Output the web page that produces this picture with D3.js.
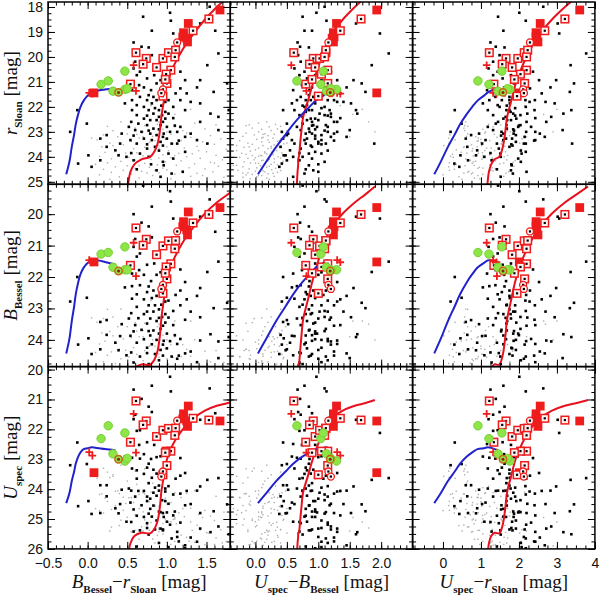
<!DOCTYPE html>
<html>
<head>
<meta charset="utf-8">
<script src="https://cdn.jsdelivr.net/npm/d3@7"></script>
<style>
	body { margin: 0; background: #fff; }
	svg { display: block; }
</style>
</head>
<body>
<div id="chart"></div>
<script>
// every star is [r_Sloan, B_Bessel - r_Sloan, U_spec - B_Bessel]
var redTrackR  = [25.3, 25.1, 24.6, 24.3, 24.1, 24.0, 23.8, 23.5, 23.0, 22.4, 21.8, 21.1, 20.4, 19.75, 19.1, 18.5, 18.0, 17.6, 17.2];
var redTrackBR = [0.50, 0.51, 0.54, 0.59, 0.68, 0.79, 0.84, 0.88, 0.91, 0.93, 0.96, 1.00, 1.08, 1.19, 1.33, 1.48, 1.63, 1.77, 1.92];
var redTrackUB = [0.66, 0.66, 0.67, 0.68, 0.68, 0.69, 0.70, 0.71, 0.73, 0.76, 0.83, 0.91, 1.00, 1.09, 1.21, 1.39, 1.58, 1.75, 1.9];

var blueTrackR  = [24.7, 24.2, 23.6, 23.1, 22.7, 22.3, 22.0, 21.75, 21.55, 21.42, 21.35, 21.3, 21.25];
var blueTrackBR = [-0.27, -0.23, -0.2, -0.17, -0.15, -0.12, -0.09, -0.05, 0.0, 0.05, 0.12, 0.22, 0.35];
var blueTrackUB = [0.04, 0.17, 0.33, 0.48, 0.6, 0.74, 0.86, 0.96, 1.08, 1.13, 1.15, 1.14, 1.1];

var sqStars = [
	[19.83,0.61,0.61],[20.06,0.74,0.92],[20.29,0.70,0.86],[20.42,0.87,0.95],[20.06,0.95,1.02],
	[19.83,1.02,1.12],[19.73,1.11,1.12],[20.00,1.10,1.10],[20.53,1.05,1.15],[20.69,0.99,1.05],
	[21.06,1.00,1.15],[21.57,0.95,1.00],[21.09,0.54,0.80],[18.48,1.53,1.68],[18.95,1.33,1.35],
	[20.90,0.98,0.90]
];
var filledSqStars = [
	[18.66,1.27,1.29],[18.12,1.67,1.93],[19.03,1.21,1.24],[19.20,1.20,1.25],[19.25,1.25,1.22],
	[19.40,1.26,1.24],[21.44,0.08,1.93]
];
var circStars = [[19.42,1.13,1.16],[21.30,0.95,1.16],[21.45,0.93,1.20]];
var plusStars = [[20.33,0.58,0.57],[21.36,0.61,0.81],[21.44,0.02,1.30],[21.47,0.06,1.35]];
var greenStars = [[21.10,0.17,1.04],[20.96,0.26,0.66],[20.57,0.47,1.08],[21.37,0.32,1.13],[21.30,0.47,1.29],[21.27,0.50,1.20]];
var ringStars = [[21.42,0.39,1.19]];

var blackStars = [
	[18.39,0.70,0.75],[18.23,1.04,0.97],[18.55,1.05,1.13],[17.99,1.54,1.10],[18.95,0.81,0.78],[19.06,1.08,1.98],
	[18.95,1.61,0.90],[18.66,1.42,1.60],[19.42,0.58,0.67],[19.59,0.68,0.71],[19.62,0.77,0.85],[19.93,0.81,0.68],
	[20.19,0.60,0.72],[20.46,0.58,0.62],[20.59,0.66,0.78],[20.73,0.62,0.70],[20.73,0.84,0.95],[20.86,0.75,0.82],
	[19.86,1.65,2.12],[20.33,1.51,1.85],[20.93,1.42,1.56],[21.06,1.76,1.69],[21.22,1.38,1.45],
	[21.13,0.65,0.74],[21.22,0.71,0.90],[21.33,0.80,0.86],[21.33,0.56,0.60],[21.06,0.87,1.00],[20.93,0.92,1.05],
	[20.59,1.17,1.20],[20.93,1.23,1.30],[21.26,1.17,1.12],[21.46,1.25,1.35],[21.46,1.11,1.08],[21.73,1.17,1.25],
	[21.80,1.30,1.40],[22.00,1.08,1.10],[22.13,1.23,1.18],[22.27,1.55,1.62],[22.40,1.65,1.20],[22.60,1.42,1.30],
	[22.93,1.65,1.50],[23.47,1.51,1.89],[23.07,1.30,1.25],[23.33,1.38,1.05],[22.80,1.17,1.15],[23.47,1.13,1.00],
	[23.80,1.23,0.95],[24.07,1.08,0.90],[24.34,0.96,0.85],[24.67,1.06,0.78],[24.54,0.87,0.92],
	[21.60,0.66,0.72],[21.73,0.75,0.80],[21.86,0.81,0.95],[21.73,0.87,0.88],[22.00,0.71,0.78],[22.13,0.77,0.90],
	[22.27,0.83,1.02],[22.13,0.90,0.85],[22.33,0.94,1.10],[22.47,0.98,0.95],[22.27,1.02,1.20],[22.53,0.87,0.82],
	[22.53,0.79,1.00],[22.47,0.71,0.88],[22.33,0.62,0.70],[22.13,0.56,0.62],[22.67,0.64,0.75],[22.73,0.75,0.92],
	[22.87,0.83,0.85],[22.73,0.92,1.12],[22.80,1.00,0.98],[23.00,1.04,1.15],[23.07,0.96,0.90],[23.13,0.87,1.05],
	[23.07,0.79,0.80],[23.00,0.68,0.86],[22.93,0.60,0.72],[22.80,0.52,0.66],[23.27,0.71,0.95],[23.33,0.81,0.78],
	[23.40,0.92,1.00],[23.27,1.00,0.82],[23.47,1.06,1.12],[23.60,0.85,0.90],[23.67,0.75,0.72],[23.47,0.62,0.80],
	[23.33,0.54,0.58],[23.07,0.43,0.52],[23.47,0.41,0.62],[23.74,0.35,0.55],[23.94,0.39,0.48],[23.13,0.24,0.50],
	[23.27,0.16,0.44],[23.60,0.24,0.40],[23.94,0.01,0.45],[24.27,-0.12,0.42],[24.40,0.05,0.38],[24.14,0.16,0.50],
	[24.00,0.49,0.60],[24.14,0.58,0.70],[23.87,0.66,0.85],[24.00,0.77,0.75],[22.13,-0.13,0.44],[22.67,-0.01,0.50],
	[23.00,-0.22,0.42],[21.73,0.56,0.66],[21.86,0.47,0.58],[21.93,0.62,0.82],[21.73,1.02,1.15],[23.87,1.02,1.05],
	[23.00,1.13,1.30],[23.20,1.23,1.45],[21.60,0.83,0.92],[21.53,0.92,1.00],[21.53,0.77,0.85],[21.86,1.42,1.52],
	[21.40,1.59,1.75],[22.13,1.78,1.60],
	[22.40,0.90,0.75],[22.60,0.95,1.25],[22.20,0.98,0.80],[22.90,0.90,0.95],[23.20,0.95,1.20],[23.55,0.95,0.88],
	[23.75,0.90,1.15],[22.05,0.85,1.05],[21.95,0.93,0.75],[22.35,0.75,1.15],[22.95,0.77,1.10],[23.50,0.75,1.05],
	[22.60,0.55,0.90],[23.15,0.58,0.95],[23.85,0.55,0.70],[24.30,0.80,1.00],[24.50,0.62,0.80],[24.20,0.95,1.10],
	[22.75,1.10,0.90],[23.35,1.15,1.25],[21.80,0.98,1.30],[24.80,0.92,0.60],[24.60,1.20,1.00],[22.45,1.08,1.35]
];

var greyStars = [
	[22.60,0.42,0.18],[22.65,1.35,0.05],[22.70,0.88,0.32],[22.72,1.62,-0.10],[22.78,0.25,0.40],[22.80,1.10,0.22],
	[22.85,0.60,-0.05],[22.88,1.48,0.35],[22.90,0.95,0.10],[22.95,0.32,0.25],[23.00,1.72,0.05],[23.00,0.70,0.42],
	[23.05,1.25,-0.15],[23.08,0.50,0.15],[23.10,1.05,0.30],[23.12,0.20,-0.02],[23.15,1.55,0.20],[23.18,0.82,-0.20],
	[23.20,0.38,0.48],[23.22,1.30,0.12],[23.25,0.65,0.28],[23.28,1.68,0.40],[23.30,0.98,0.02],[23.32,0.12,0.20],
	[23.35,1.18,-0.25],[23.38,0.55,0.35],[23.40,1.45,0.10],[23.42,0.78,0.22],[23.45,0.28,-0.12],[23.48,1.08,0.45],
	[23.50,1.60,-0.05],[23.52,0.45,0.30],[23.55,0.90,0.12],[23.58,1.38,0.25],[23.60,0.18,0.38],[23.62,0.72,-0.18],
	[23.65,1.22,0.05],[23.67,0.58,0.20],[23.70,1.75,0.30],[23.72,0.35,0.00],[23.75,1.02,0.34],[23.77,0.85,-0.08],
	[23.80,1.50,0.15],[23.82,0.22,0.26],[23.84,0.62,0.42],[23.86,1.15,-0.22],[23.88,1.32,0.18],[23.90,0.40,-0.15],
	[23.92,0.95,0.28],[23.94,1.62,0.08],[23.96,0.70,0.10],[23.98,0.15,0.05],[24.00,1.25,0.36],[24.02,0.52,-0.25],
	[24.04,1.05,0.00],[24.06,1.42,-0.12],[24.08,0.30,0.30],[24.10,0.80,0.22],[24.12,1.70,-0.02],[24.14,0.60,0.12],
	[24.16,1.18,0.20],[24.18,0.42,0.44],[24.20,0.98,-0.18],[24.22,1.55,0.30],[24.24,0.25,-0.08],[24.26,0.72,0.05],
	[24.28,1.35,0.15],[24.30,0.10,0.25],[24.32,0.88,0.35],[24.34,1.12,-0.30],[24.36,0.50,0.08],[24.38,1.65,0.22],
	[24.40,0.35,-0.20],[24.42,0.78,0.18],[24.44,1.28,0.02],[24.46,0.60,0.32],[24.48,1.48,-0.10],[24.50,0.20,0.10],
	[24.52,1.00,0.26],[24.54,0.45,-0.28],[24.56,1.20,0.12],[24.58,0.68,0.00],[24.60,1.58,0.15],[24.62,0.30,0.35],
	[24.64,0.90,-0.12],[24.66,1.38,0.28],[24.68,0.55,0.20],[24.70,1.10,-0.05],[24.72,0.15,-0.15],[24.75,0.82,0.10],
	[24.78,1.30,0.30],[24.80,0.40,0.02],[24.82,1.72,-0.20],[24.85,0.65,0.18],[24.88,1.05,-0.08],[24.90,0.28,0.22],
	[23.10,0.62,0.12],[23.35,0.85,0.38],[23.60,1.00,-0.10],[23.85,0.48,0.15],[24.05,0.90,0.40],[24.25,1.60,0.00],
	[24.45,0.95,0.10],[24.65,0.75,-0.20],[23.45,1.52,0.50],[23.75,1.40,-0.30],[24.15,1.80,0.10],[22.95,1.20,0.50],
	[23.25,0.05,0.10],[23.55,0.32,-0.30],[24.35,0.65,-0.35],[24.55,0.85,0.40],[23.95,1.10,-0.05],[23.65,0.90,0.25],
	[24.75,1.45,0.05],[22.75,0.72,-0.15],
	[21.95,0.80,1.35],[22.30,1.10,1.55],[22.60,0.90,1.80],[23.00,1.00,1.90],[23.20,0.70,1.50],[22.10,1.30,1.70]
];

var colQuantity = ["BR", "UB", "UR"];
var rowQuantity = ["r", "B", "U"];
var colDomains = [[-0.5, 1.8], [-0.4, 2.5], [-0.8, 4.0]];
var rowDomains = [[17.8, 25.1], [19.05, 24.85], [19.9, 26.0]];
var colTicks = [[-0.5, 0, 0.5, 1, 1.5], [0, 0.5, 1, 1.5, 2], [0, 1, 2, 3, 4]];
var colTickLabels = [["\u22120.5", "0.0", "0.5", "1.0", "1.5"], ["0.0", "0.5", "1.0", "1.5", "2.0"], ["0", "1", "2", "3", "4"]];
var rowTicks = [[18, 19, 20, 21, 22, 23, 24, 25], [20, 21, 22, 23, 24], [20, 21, 22, 23, 24, 25, 26]];
var colMinor = [0.1, 0.1, 0.25];
var rowMinor = [0.25, 0.25, 0.25];

var rowTitles = [
	[{t: "r", i: 1}, {t: "Sloan", s: 1}, {t: "\u00a0[mag]"}],
	[{t: "B", i: 1}, {t: "Bessel", s: 1}, {t: "\u00a0[mag]"}],
	[{t: "U", i: 1}, {t: "spec", s: 1}, {t: "\u00a0[mag]"}]
];
var colTitles = [
	[{t: "B", i: 1}, {t: "Bessel", s: 1}, {t: "\u2212"}, {t: "r", i: 1}, {t: "Sloan", s: 1}, {t: "\u00a0[mag]"}],
	[{t: "U", i: 1}, {t: "spec", s: 1}, {t: "\u2212"}, {t: "B", i: 1}, {t: "Bessel", s: 1}, {t: "\u00a0[mag]"}],
	[{t: "U", i: 1}, {t: "spec", s: 1}, {t: "\u2212"}, {t: "r", i: 1}, {t: "Sloan", s: 1}, {t: "\u00a0[mag]"}]
];

// magnitudes and colours from one star
var value = {
	r:  function(s) { return s[0]; },
	B:  function(s) { return s[0] + s[1]; },
	U:  function(s) { return s[0] + s[1] + s[2]; },
	BR: function(s) { return s[1]; },
	UB: function(s) { return s[2]; },
	UR: function(s) { return s[1] + s[2]; }
};

var redTrack = d3.zip(redTrackR, redTrackBR, redTrackUB);
var blueTrack = d3.zip(blueTrackR, blueTrackBR, blueTrackUB);

var chart_width = 600,
	chart_height = 595,
	plot_left = 48,
	plot_top = 2,
	panel_size = 182.3;

var red = "#ee1c1c",
	green = "#8ee548";

var svg = d3.select("#chart")
	.append("svg")
		.attr("width", chart_width)
		.attr("height", chart_height);

var defs = svg.append("defs");

function minorTicks(domain, step) {
	var lo = Math.ceil(domain[0] / step - 1e-6),
		hi = Math.floor(domain[1] / step + 1e-6);
	return d3.range(lo, hi + 1).map(function(k) { return k * step; });
}

function styleAxis(g) {
	g.select(".domain").remove();
	g.attr("font-size", 14)
		.attr("font-family", "'Liberation Sans', Arial, sans-serif");
	g.selectAll("text").attr("fill", "#111");
	g.selectAll("line").attr("stroke", "#000");
}

var blank = function() { return ""; };

rowQuantity.forEach(function(rq, ri) {
	colQuantity.forEach(function(cq, ci) {
		var x0 = plot_left + ci * panel_size,
			y0 = plot_top + ri * panel_size;
		var x = d3.scaleLinear().domain(colDomains[ci]).range([x0, x0 + panel_size]);
		var y = d3.scaleLinear().domain(rowDomains[ri]).range([y0, y0 + panel_size]);
		var fx = function(s) { return x(value[cq](s)); };
		var fy = function(s) { return y(value[rq](s)); };

		var id = "clip" + ri + ci;
		defs.append("clipPath").attr("id", id)
			.append("rect")
				.attr("x", x0).attr("y", y0)
				.attr("width", panel_size).attr("height", panel_size);

		var g = svg.append("g").attr("clip-path", "url(#" + id + ")");

		// faint background stars
		g.append("g").selectAll("rect")
			.data(greyStars)
			.enter()
			.append("rect")
			.attr("x", function(d) { return fx(d) - 0.7; })
			.attr("y", function(d) { return fy(d) - 0.7; })
			.attr("width", 1.4)
			.attr("height", 1.4)
			.attr("fill", "#b0b0b0");

		g.append("g").selectAll("rect")
			.data(blackStars)
			.enter()
			.append("rect")
			.attr("x", function(d) { return fx(d) - 1.3; })
			.attr("y", function(d) { return fy(d) - 1.3; })
			.attr("width", 2.6)
			.attr("height", 2.6)
			.attr("fill", "#000");

		var line = d3.line().x(fx).y(fy).curve(d3.curveCatmullRom);

		g.append("path")
			.attr("d", line(redTrack))
			.attr("fill", "none")
			.attr("stroke", "#e8101e")
			.attr("stroke-width", 2);

		g.append("path")
			.attr("d", line(blueTrack))
			.attr("fill", "none")
			.attr("stroke", "#2222cc")
			.attr("stroke-width", 2);

		// marked objects
		g.append("g").selectAll("rect")
			.data(filledSqStars)
			.enter()
			.append("rect")
			.attr("x", function(d) { return fx(d) - 4.4; })
			.attr("y", function(d) { return fy(d) - 4.4; })
			.attr("width", 8.8)
			.attr("height", 8.8)
			.attr("fill", red);

		var sq = g.append("g").selectAll("g")
			.data(sqStars)
			.enter()
			.append("g")
			.attr("transform", function(d) { return "translate(" + fx(d) + "," + fy(d) + ")"; });
		sq.append("rect")
			.attr("x", -3.8).attr("y", -3.8)
			.attr("width", 7.6).attr("height", 7.6)
			.attr("fill", "#fff2f2")
			.attr("stroke", red)
			.attr("stroke-width", 1.5);
		sq.append("rect")
			.attr("x", -1.1).attr("y", -1.1)
			.attr("width", 2.2).attr("height", 2.2)
			.attr("fill", "#000");

		var circ = g.append("g").selectAll("g")
			.data(circStars)
			.enter()
			.append("g")
			.attr("transform", function(d) { return "translate(" + fx(d) + "," + fy(d) + ")"; });
		circ.append("circle")
			.attr("r", 3.5)
			.attr("fill", "#fff2f2")
			.attr("stroke", red)
			.attr("stroke-width", 1.3);
		circ.append("rect")
			.attr("x", -1.1).attr("y", -1.1)
			.attr("width", 2.2).attr("height", 2.2)
			.attr("fill", "#000");

		g.append("g").selectAll("path")
			.data(plusStars)
			.enter()
			.append("path")
			.attr("transform", function(d) { return "translate(" + fx(d) + "," + fy(d) + ")"; })
			.attr("d", "M-3.8,0H3.8M0,-3.8V3.8")
			.attr("stroke", red)
			.attr("stroke-width", 1.8);

		g.append("g").selectAll("circle")
			.data(greenStars)
			.enter()
			.append("circle")
			.attr("cx", fx)
			.attr("cy", fy)
			.attr("r", 4.2)
			.attr("fill", green)
			.attr("stroke", "#74d034")
			.attr("stroke-width", 1);

		var ring = g.append("g").selectAll("g")
			.data(ringStars)
			.enter()
			.append("g")
			.attr("transform", function(d) { return "translate(" + fx(d) + "," + fy(d) + ")"; });
		ring.append("circle")
			.attr("r", 3.7)
			.attr("fill", green)
			.attr("stroke", "#c8641a")
			.attr("stroke-width", 1.5);
		ring.append("circle")
			.attr("r", 1.5)
			.attr("fill", "#8a2010");

		// axes, ticks pointing inwards on all four sides
		var ax = svg.append("g");
		ax.append("g")
			.attr("transform", "translate(0," + (y0 + panel_size) + ")")
			.call(d3.axisBottom(x).tickValues(colTicks[ci]).tickSize(-7).tickSizeOuter(0).tickPadding(9)
				.tickFormat(ri == 2 ? function(d, i) { return colTickLabels[ci][i]; } : blank))
			.call(styleAxis);
		ax.append("g")
			.attr("transform", "translate(0," + (y0 + panel_size) + ")")
			.call(d3.axisBottom(x).tickValues(minorTicks(colDomains[ci], colMinor[ci])).tickSize(-3.5).tickSizeOuter(0).tickFormat(blank))
			.call(styleAxis);
		ax.append("g")
			.attr("transform", "translate(0," + y0 + ")")
			.call(d3.axisTop(x).tickValues(colTicks[ci]).tickSize(-7).tickSizeOuter(0).tickFormat(blank))
			.call(styleAxis);
		ax.append("g")
			.attr("transform", "translate(0," + y0 + ")")
			.call(d3.axisTop(x).tickValues(minorTicks(colDomains[ci], colMinor[ci])).tickSize(-3.5).tickSizeOuter(0).tickFormat(blank))
			.call(styleAxis);
		ax.append("g")
			.attr("transform", "translate(" + x0 + ",0)")
			.call(d3.axisLeft(y).tickValues(rowTicks[ri]).tickSize(-7).tickSizeOuter(0).tickPadding(5)
				.tickFormat(ci == 0 ? d3.format("d") : blank))
			.call(styleAxis);
		ax.append("g")
			.attr("transform", "translate(" + x0 + ",0)")
			.call(d3.axisLeft(y).tickValues(minorTicks(rowDomains[ri], rowMinor[ri])).tickSize(-3.5).tickSizeOuter(0).tickFormat(blank))
			.call(styleAxis);
		ax.append("g")
			.attr("transform", "translate(" + (x0 + panel_size) + ",0)")
			.call(d3.axisRight(y).tickValues(rowTicks[ri]).tickSize(-7).tickSizeOuter(0).tickFormat(blank))
			.call(styleAxis);
		ax.append("g")
			.attr("transform", "translate(" + (x0 + panel_size) + ",0)")
			.call(d3.axisRight(y).tickValues(minorTicks(rowDomains[ri], rowMinor[ri])).tickSize(-3.5).tickSizeOuter(0).tickFormat(blank))
			.call(styleAxis);

		ax.append("rect")
			.attr("x", x0).attr("y", y0)
			.attr("width", panel_size).attr("height", panel_size)
			.attr("fill", "none")
			.attr("stroke", "#000")
			.attr("stroke-width", 1.5);
	});
});

function addTitle(text, parts) {
	var inSub = false;
	parts.forEach(function(p) {
		var ts = text.append("tspan").text(p.t);
		if (p.i) ts.attr("font-style", "italic");
		if (p.s) {
			ts.attr("font-size", 11).attr("font-weight", "bold").attr("dy", 5);
			inSub = true;
		} else if (inSub) {
			ts.attr("dy", -5);
			inSub = false;
		}
	});
}

rowTitles.forEach(function(parts, ri) {
	var t = svg.append("text")
		.attr("transform", "translate(17," + (plot_top + ri * panel_size + panel_size / 2) + ") rotate(-90)")
		.attr("text-anchor", "middle")
		.attr("font-family", "'Liberation Serif', 'Times New Roman', serif")
		.attr("font-size", 19)
		.attr("fill", "#111");
	addTitle(t, parts);
});

colTitles.forEach(function(parts, ci) {
	var t = svg.append("text")
		.attr("x", plot_left + ci * panel_size + panel_size / 2)
		.attr("y", 588)
		.attr("text-anchor", "middle")
		.attr("font-family", "'Liberation Serif', 'Times New Roman', serif")
		.attr("font-size", 19)
		.attr("fill", "#111");
	addTitle(t, parts);
});
</script>
</body>
</html>
